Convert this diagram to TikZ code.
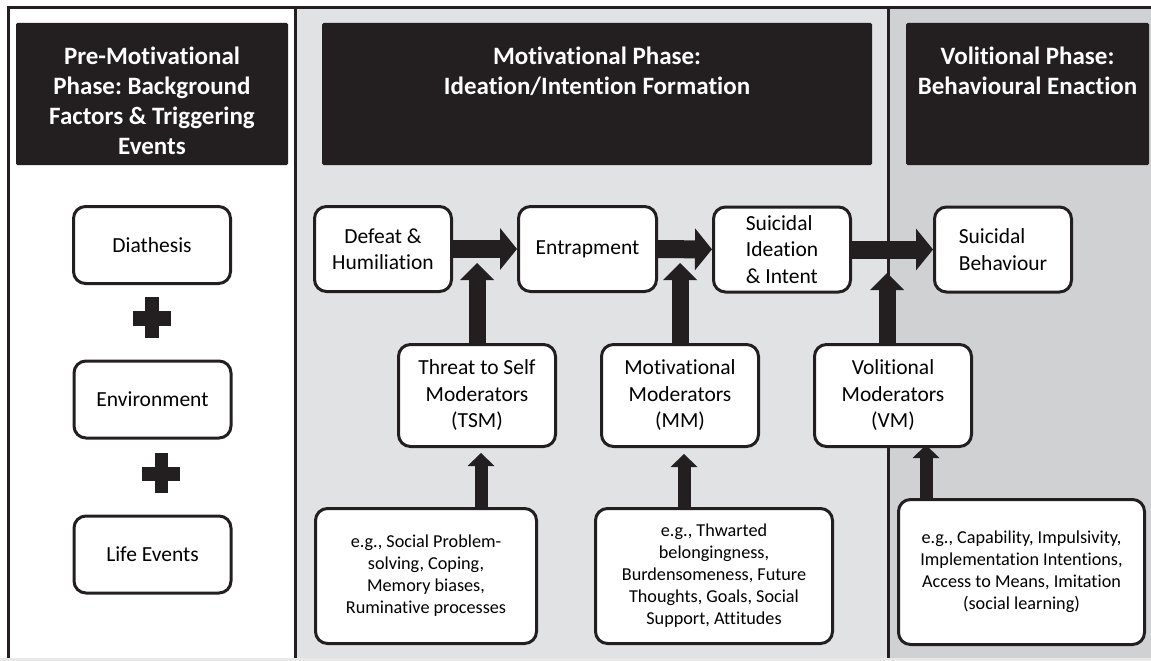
\documentclass[tikz,border=0pt]{standalone}
\usepackage{fontspec}
\setmainfont{Carlito}[Ligatures=NoCommon]
\usepackage{tikz}
\usetikzlibrary{arrows.meta,positioning}
\frenchspacing
\definecolor{hdblack}{RGB}{35,31,32}
\definecolor{motgray}{RGB}{225,226,228}
\definecolor{volgray}{RGB}{208,209,211}
\definecolor{stripgray}{RGB}{232,232,232}
\tikzset{
  frame/.style={draw=hdblack, line width=3pt},
  header/.style={fill=hdblack, rounded corners=1.5pt, inner sep=0pt},
  hdtext/.style={text=white, font=\fontsize{25}{30}\selectfont\bfseries, align=center, inner sep=0pt},
  phasebox/.style={draw=hdblack, line width=3pt, fill=white, rounded corners=12pt, inner sep=0pt,
    align=center, font=\fontsize{21.5}{26.5}\selectfont},
  egbox/.style={phasebox, font=\fontsize{18.2}{22}\selectfont},
  plusbar/.style={fill=hdblack, inner sep=0pt},
  bigarrow/.style={draw=hdblack, line width=18pt, -{Triangle[length=17pt,width=42pt,line width=0pt]}},
  uparrow/.style={draw=hdblack, line width=17pt, -{Triangle[length=17pt,width=34pt,line width=0pt]}},
  smallarrow/.style={draw=hdblack, line width=13pt, -{Triangle[length=13pt,width=27pt,line width=0pt]}}
}

\begin{document}
\begin{tikzpicture}[x=1pt,y=-1pt]

  \newcommand\Top{8}
  \newcommand\Bot{658}
  \useasboundingbox (0,0) rectangle (1151,661);

  %% panels
  \fill[white] (0,0) rectangle (1151,661);
  \fill[motgray] (295,\Top) rectangle (888,\Bot);
  \fill[volgray] (888,\Top) rectangle (1151,\Bot);
  \fill[stripgray] (0,\Bot) rectangle (1151,661);
  \draw[frame] (8,\Bot) -- (8,\Top) -- (1151,\Top);
  \draw[frame] (295,\Top) -- (295,\Bot);
  \draw[frame] (888,\Top) -- (888,\Bot);

  %% headers
  \node[header, minimum width=272pt, minimum height=142pt] (hdpre) at (152,94) {};
  \node[header, minimum width=550pt, minimum height=142pt] (hdmot) at (597,94) {};
  \node[header, minimum width=243pt, minimum height=142pt] (hdvol) at (1027.5,94) {};
  \node[hdtext, below=24pt of hdpre.north] (hdpretext)
    {Pre-Motivational\\Phase: Background\\Factors \& Triggering\\Events};
  \node[hdtext, below=24pt of hdmot.north] (hdmottext)
    {Motivational Phase:\\Ideation/Intention Formation};
  \node[hdtext, below=24pt of hdvol.north] (hdvoltext)
    {Volitional Phase:\\Behavioural Enaction};

  %% pre-motivational
  \node[phasebox, minimum width=157pt, minimum height=77pt] (diathesis) at (152,245) {Diathesis};
  \node[phasebox, minimum width=157pt, minimum height=77pt] (environment) at (152.5,399.5) {Environment};
  \node[phasebox, minimum width=157pt, minimum height=77pt] (lifeevents) at (152.5,554.5) {Life Events};
  \node[plusbar, minimum width=38pt, minimum height=15pt] (plusah) at (152,318.5) {};
  \node[plusbar, minimum width=14pt, minimum height=41pt] (plusav) at (152,317.5) {};
  \node[plusbar, minimum width=38pt, minimum height=14pt] (plusbh) at (161,474) {};
  \node[plusbar, minimum width=13pt, minimum height=40pt] (plusbv) at (161.5,473) {};

  %% main pathway
  \node[phasebox, minimum width=137pt, minimum height=85pt] (defeat) at (383,249) {Defeat \&\\Humiliation};
  \node[phasebox, minimum width=138pt, minimum height=85pt] (entrap) at (587.5,249) {Entrapment};
  \node[phasebox, minimum width=137pt, minimum height=85pt, align=left] (ideation) at (782,249.5)
    {Suicidal\\Ideation\\\& Intent};
  \node[phasebox, minimum width=137pt, minimum height=85pt, align=left] (behaviour) at (1003,249.5)
    {Suicidal\\Behaviour};

  %% moderators
  \node[phasebox, minimum width=157pt, minimum height=102pt] (tsm) at (477,395.5) {Threat to Self\\Moderators\\(TSM)};
  \node[phasebox, minimum width=157pt, minimum height=102pt] (mm) at (680,395.5) {Motivational\\Moderators\\(MM)};
  \node[phasebox, minimum width=157pt, minimum height=102pt] (vm) at (893,395.5) {Volitional\\Moderators\\(VM)};

  \node[egbox, minimum width=221pt, minimum height=135pt] (tsmeg) at (426,576)
    {e.g., Social Problem-\\solving, Coping,\\Memory biases,\\Ruminative processes};
  \node[egbox, minimum width=237pt, minimum height=135pt] (mmeg) at (714,576)
    {e.g., Thwarted\\belongingness,\\Burdensomeness, Future\\Thoughts, Goals, Social\\Support, Attitudes};
  \node[egbox, minimum width=246pt, minimum height=145pt] (vmeg) at (1021.5,572)
    {e.g., Capability, Impulsivity,\\Implementation Intentions,\\Access to Means, Imitation\\(social learning)};

  %% arrows
  \coordinate (uptip) at (0,263);
  \coordinate (vtip) at (0,273);
  \draw[bigarrow] (defeat) -- (entrap);
  \draw[bigarrow] (entrap) -- (ideation);
  \draw[bigarrow] (ideation) -- (behaviour);

  \draw[uparrow] (tsm.north) -- (tsm.north |- uptip);
  \draw[uparrow] (mm.north) -- (mm.north |- uptip);
  \draw[uparrow] ([xshift=-6pt]vm.north) -- ([xshift=-6pt]vm.north |- vtip);

  \draw[smallarrow] ([xshift=4pt]tsm.south |- tsmeg.north) -- ([xshift=4pt,yshift=-5pt]tsm.south);
  \draw[smallarrow] ([xshift=4pt]mm.south |- mmeg.north) -- ([xshift=4pt,yshift=-6pt]mm.south);
  \draw[smallarrow] ([xshift=33pt]vm.south |- vmeg.north) -- ([xshift=33pt,yshift=3pt]vm.south);

\end{tikzpicture}
\end{document}
